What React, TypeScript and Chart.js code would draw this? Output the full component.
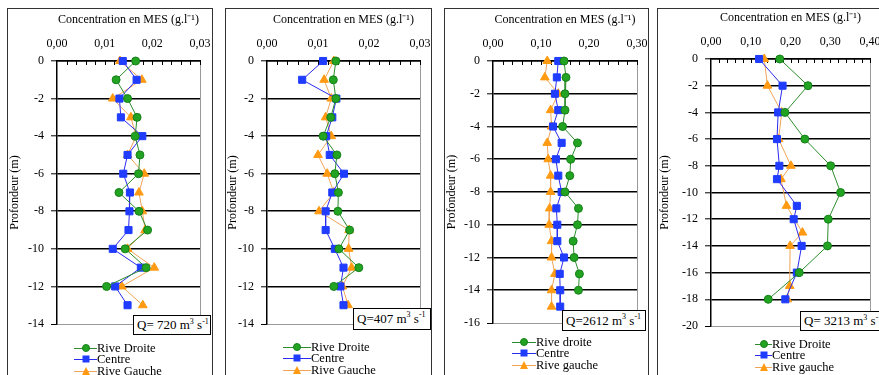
import React, { useEffect, useRef } from 'react';
import { Chart, registerables } from 'chart.js';

Chart.register(...registerables);

// ---------------- DATA ----------------
// Panel 1 (Q = 720)
const p1DepthsDroite = [0, -1, -2, -3, -4, -5, -6, -7, -8, -9, -10, -11, -12];
const p1Droite = [0.0165, 0.0124, 0.0148, 0.0168, 0.0164, 0.0174, 0.0171, 0.013, 0.0172, 0.019, 0.0143, 0.0187, 0.0104];
const p1Depths = [0, -1, -2, -3, -4, -5, -6, -7, -8, -9, -10, -11, -12, -13];
const p1Centre = [0.0138, 0.0167, 0.0131, 0.0134, 0.0179, 0.0148, 0.0139, 0.0153, 0.0152, 0.015, 0.0117, 0.0176, 0.0122, 0.0148];
const p1Gauche = [0.0132, 0.0178, 0.0117, 0.0155, 0.0166, 0.0148, 0.0183, 0.0172, 0.0179, 0.0185, 0.0148, 0.0204, 0.0136, 0.018];
const p1XTicks = ['0,00', '0,01', '0,02', '0,03'];

// Panel 2 (Q = 407)
const p2DepthsDroite = [0, -1, -2, -3, -4, -5, -6, -7, -8, -9, -10, -11, -12];
const p2Droite = [0.0135, 0.013, 0.0135, 0.0125, 0.011, 0.0137, 0.0133, 0.014, 0.0139, 0.0162, 0.0141, 0.018, 0.0131];
const p2Depths = [0, -1, -2, -3, -4, -5, -6, -7, -8, -9, -10, -11, -12, -13];
const p2Centre = [0.011, 0.0069, 0.0136, 0.0128, 0.0116, 0.0123, 0.0151, 0.0128, 0.0115, 0.0115, 0.0133, 0.015, 0.0144, 0.015];
const p2Gauche = [0.0131, 0.0112, 0.0126, 0.0115, 0.0126, 0.01, 0.0118, 0.0131, 0.0102, 0.0161, 0.016, 0.0166, 0.0148, 0.0159];
const p2XTicks = ['0,00', '0,01', '0,02', '0,03'];

// Panel 3 (Q = 2612)
const p3DepthsDroite = [0, -1, -2, -3, -4, -5, -6, -7, -8, -9, -10, -11, -12, -13, -14];
const p3Droite = [0.148, 0.152, 0.15, 0.15, 0.145, 0.176, 0.162, 0.16, 0.15, 0.178, 0.176, 0.167, 0.169, 0.18, 0.178];
const p3Depths = [0, -1, -2, -3, -4, -5, -6, -7, -8, -9, -10, -11, -12, -13, -14, -15];
const p3Centre = [0.136, 0.133, 0.129, 0.136, 0.125, 0.143, 0.131, 0.136, 0.143, 0.132, 0.134, 0.134, 0.148, 0.139, 0.14, 0.14];
const p3Gauche = [0.113, 0.108, 0.136, 0.12, 0.122, 0.113, 0.115, 0.12, 0.12, 0.118, 0.117, 0.122, 0.122, 0.129, 0.122, 0.122];
const p3XTicks = ['0,00', '0,10', '0,20', '0,30'];

// Panel 4 (Q = 3213)
const p4DepthsDroite = [0, -2, -4, -6, -8, -10, -12, -14, -16, -18];
const p4Droite = [0.173, 0.244, 0.186, 0.236, 0.301, 0.326, 0.295, 0.293, 0.222, 0.144];
const p4DepthsCentre = [0, -2, -4, -6, -8, -9, -11, -12, -14, -16, -18];
const p4Centre = [0.121, 0.18, 0.169, 0.166, 0.172, 0.166, 0.216, 0.208, 0.228, 0.216, 0.187];
const p4DepthsGauche = [0, -2, -4, -6, -8, -9, -11, -13, -14, -17, -18];
const p4Gauche = [0.134, 0.142, 0.178, 0.17, 0.201, 0.176, 0.19, 0.23, 0.199, 0.198, 0.192];
const p4XTicks = ['0,00', '0,10', '0,20', '0,30', '0,40'];

const xTitle = 'Concentration en MES (g.l⁻¹)';
const yTitle = 'Profondeur (m)';

// ---------------- STYLE ----------------
const FONT = "'Liberation Serif', 'Times New Roman', serif";
const STYLE: Record<string, any> = {
  droite: { line: '#2c8c2c', fill: '#22a322', border: '#16801a', pointStyle: 'circle', radius: 4 },
  centre: { line: '#2a2af0', fill: '#1f3cff', border: '#1f3cff', pointStyle: 'rect', radius: 5 },
  gauche: { line: '#f0a458', fill: '#ff9a12', border: '#ff9a12', pointStyle: 'triangle', radius: 5 },
};

type SeriesDef = { kind: string; label: string; xs: number[]; ys: number[] };
type PanelCfg = {
  bL: number; bR: number;
  plotL: number; plotR: number; plotT: number; plotB: number;
  xMax: number; xStep: number; xMinor: number; xTicks: string[];
  yMin: number; titlePad: number;
  series: SeriesDef[];
  q: { num: string; left: number; top: number; width: number; height: number };
  legend: { lineL: number; lineW: number; top: number };
};

const panels: PanelCfg[] = [
  {
    bL: 7, bR: 212, plotL: 57, plotR: 200, plotT: 61, plotB: 324,
    xMax: 0.03, xStep: 0.01, xMinor: 0.002, xTicks: p1XTicks, yMin: -14, titlePad: 4,
    series: [
      { kind: 'droite', label: 'Rive Droite', xs: p1Droite, ys: p1DepthsDroite },
      { kind: 'centre', label: 'Centre', xs: p1Centre, ys: p1Depths },
      { kind: 'gauche', label: 'Rive Gauche', xs: p1Gauche, ys: p1Depths },
    ],
    q: { num: 'Q= 720', left: 133, top: 315, width: 78, height: 20 },
    legend: { lineL: 74, lineW: 23, top: 342 },
  },
  {
    bL: 225, bR: 431, plotL: 267, plotR: 420, plotT: 61, plotB: 324,
    xMax: 0.03, xStep: 0.01, xMinor: 0.002, xTicks: p2XTicks, yMin: -14, titlePad: 4,
    series: [
      { kind: 'droite', label: 'Rive Droite', xs: p2Droite, ys: p2DepthsDroite },
      { kind: 'centre', label: 'Centre', xs: p2Centre, ys: p2Depths },
      { kind: 'gauche', label: 'Rive Gauche', xs: p2Gauche, ys: p2Depths },
    ],
    q: { num: 'Q=407', left: 353, top: 308, width: 78, height: 22 },
    legend: { lineL: 283, lineW: 28, top: 341 },
  },
  {
    bL: 444, bR: 648, plotL: 493, plotR: 637, plotT: 61, plotB: 323,
    xMax: 0.3, xStep: 0.1, xMinor: 0.02, xTicks: p3XTicks, yMin: -16, titlePad: 4,
    series: [
      { kind: 'droite', label: 'Rive droite', xs: p3Droite, ys: p3DepthsDroite },
      { kind: 'centre', label: 'Centre', xs: p3Centre, ys: p3Depths },
      { kind: 'gauche', label: 'Rive gauche', xs: p3Gauche, ys: p3Depths },
    ],
    q: { num: 'Q=2612', left: 562, top: 310, width: 84, height: 21 },
    legend: { lineL: 512, lineW: 24, top: 336 },
  },
  {
    bL: 657, bR: 895, plotL: 711, plotR: 870, plotT: 59, plotB: 326,
    xMax: 0.4, xStep: 0.1, xMinor: 0.02, xTicks: p4XTicks, yMin: -20, titlePad: 2,
    series: [
      { kind: 'droite', label: 'Rive Droite', xs: p4Droite, ys: p4DepthsDroite },
      { kind: 'centre', label: 'Centre', xs: p4Centre, ys: p4DepthsCentre },
      { kind: 'gauche', label: 'Rive gauche', xs: p4Gauche, ys: p4DepthsGauche },
    ],
    q: { num: 'Q= 3213', left: 800, top: 311, width: 90, height: 20 },
    legend: { lineL: 755, lineW: 17, top: 338 },
  },
];

const CANVAS_TOP = 9;
const CANVAS_BOTTOM = 375;

function Marker({ kind }: { kind: string }) {
  const s = STYLE[kind];
  if (kind === 'droite') {
    return <div style={{ width: 8, height: 8, borderRadius: '50%', background: s.fill, border: `1px solid ${s.border}`, boxSizing: 'border-box' }} />;
  }
  if (kind === 'centre') {
    return <div style={{ width: 7, height: 7, background: s.fill }} />;
  }
  return <div style={{ width: 0, height: 0, borderLeft: '4.5px solid transparent', borderRight: '4.5px solid transparent', borderBottom: `8px solid ${s.fill}` }} />;
}

function Panel({ cfg }: { cfg: PanelCfg }) {
  const ref = useRef<HTMLCanvasElement>(null);
  const cL = cfg.bL + 1;
  const cW = cfg.bR - cfg.bL - 1;
  const cH = CANVAS_BOTTOM - CANVAS_TOP;

  useEffect(() => {
    const canvas = ref.current;
    if (!canvas) return;
    const font = { family: FONT, size: 12 };
    const minorPlugin = {
      id: 'minorTicks',
      beforeDatasetsDraw(chart: any) {
        const xs = chart.scales.x;
        const ctx = chart.ctx;
        const top = chart.chartArea.top;
        const n = Math.round(cfg.xMax / cfg.xMinor);
        ctx.save();
        ctx.strokeStyle = '#000';
        ctx.lineWidth = 1;
        for (let i = 1; i <= n; i++) {
          const px = Math.round(xs.getPixelForValue(i * cfg.xMinor)) + 0.5;
          ctx.beginPath();
          ctx.moveTo(px, top);
          ctx.lineTo(px, top + 4);
          ctx.stroke();
        }
        ctx.restore();
      },
    };
    const datasets = cfg.series.map((s) => {
      const st = STYLE[s.kind];
      return {
        label: s.label,
        data: s.xs.map((v, i) => ({ x: v, y: s.ys[i] })),
        showLine: true,
        borderColor: st.line,
        borderWidth: 1,
        backgroundColor: st.fill,
        pointBackgroundColor: st.fill,
        pointBorderColor: st.border,
        pointBorderWidth: 1,
        pointStyle: st.pointStyle,
        pointRadius: st.radius,
        tension: 0,
        clip: false,
      };
    });
    const chart = new Chart(canvas, {
      type: 'scatter',
      data: { datasets },
      plugins: [minorPlugin],
      options: {
        animation: false,
        responsive: false,
        maintainAspectRatio: false,
        devicePixelRatio: 1,
        events: [],
        layout: {
          padding: { left: 0, top: 0, right: cL + cW - cfg.plotR, bottom: CANVAS_BOTTOM - cfg.plotB },
        },
        plugins: { legend: { display: false }, tooltip: { enabled: false } },
        scales: {
          x: {
            type: 'linear',
            position: 'top',
            min: 0,
            max: cfg.xMax,
            ticks: {
              stepSize: cfg.xStep,
              autoSkip: false,
              maxRotation: 0,
              padding: 0,
              color: '#000',
              font,
              callback: (_v: any, i: number) => cfg.xTicks[i],
            },
            grid: {
              drawTicks: true,
              tickLength: 10,
              tickColor: 'rgba(0,0,0,0)',
              color: (c: any) => (c.tick && Math.abs(c.tick.value - cfg.xMax) < 1e-9 ? '#9a9a9a' : 'rgba(0,0,0,0)'),
              lineWidth: 1,
            },
            border: { display: true, color: '#000', width: 1.5 },
            title: { display: true, text: xTitle, color: '#000', font, padding: { top: cfg.titlePad, bottom: 0 } },
            afterFit: (s: any) => { s.height = cfg.plotT - CANVAS_TOP; },
          },
          y: {
            type: 'linear',
            min: cfg.yMin,
            max: 0,
            ticks: { stepSize: 2, color: '#000', font, padding: 7 },
            grid: {
              color: (c: any) => (c.tick && c.tick.value === cfg.yMin ? '#9a9a9a' : '#000'),
              lineWidth: (c: any) => (c.tick && c.tick.value === cfg.yMin ? 1 : 1.6),
              tickColor: '#000',
              tickLength: 6,
              tickWidth: 1,
            },
            border: { display: true, color: '#000', width: 1.5 },
            title: { display: true, text: yTitle, color: '#000', font, padding: 0 },
            afterFit: (s: any) => { s.width = cfg.plotL - cL; },
          },
        },
      } as any,
    });
    return () => chart.destroy();
  }, []);

  const rowH = 11.3;
  return (
    <>
      <div style={{ position: 'absolute', left: cfg.bL, top: 8, width: cfg.bR - cfg.bL + 1, height: 400, border: '1px solid #333', boxSizing: 'border-box' }} />
      <canvas ref={ref} width={cW} height={cH} style={{ position: 'absolute', left: cL, top: CANVAS_TOP, width: cW, height: cH }} />
      <div
        style={{
          position: 'absolute', left: cfg.q.left, top: cfg.q.top, width: cfg.q.width, height: cfg.q.height,
          border: '1px solid #000', background: '#fff', boxSizing: 'border-box',
          fontFamily: FONT, fontSize: 13, lineHeight: `${cfg.q.height - 2}px`, paddingLeft: 3, whiteSpace: 'nowrap', color: '#000',
        }}
      >
        {cfg.q.num} m<sup style={{ fontSize: 8, verticalAlign: 'top', lineHeight: '12px' }}>3</sup> s<sup style={{ fontSize: 8, verticalAlign: 'top', lineHeight: '12px' }}>-1</sup>
      </div>
      {cfg.series.map((s, i) => (
        <div
          key={s.label}
          style={{ position: 'absolute', left: cfg.legend.lineL, top: cfg.legend.top + i * rowH, height: 12, display: 'flex', alignItems: 'center', fontFamily: FONT, fontSize: 12.5, color: '#000', whiteSpace: 'nowrap' }}
        >
          <div style={{ position: 'relative', width: cfg.legend.lineW, height: 12 }}>
            <div style={{ position: 'absolute', left: 0, right: 0, top: 6, height: 1, background: STYLE[s.kind].line }} />
            <div style={{ position: 'absolute', left: '50%', top: 6, transform: 'translate(-50%, -50%)' }}>
              <Marker kind={s.kind} />
            </div>
          </div>
          <span style={{ lineHeight: '12px' }}>{s.label}</span>
        </div>
      ))}
    </>
  );
}

export default function App() {
  return (
    <div style={{ position: 'fixed', left: 0, top: 0, width: 879, height: 375, overflow: 'hidden', background: '#fff' }}>
      {panels.map((p, i) => (
        <Panel key={i} cfg={p} />
      ))}
    </div>
  );
}
